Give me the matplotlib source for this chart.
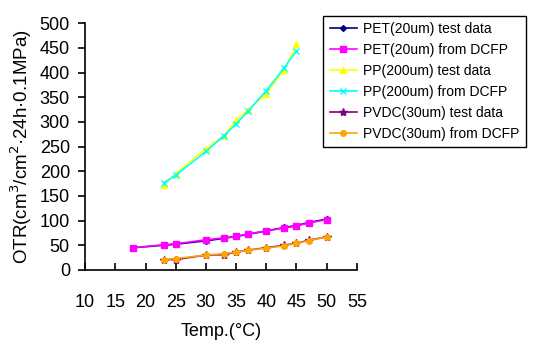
import matplotlib.pyplot as plt

plt.rcParams['font.family'] = ['Liberation Sans', 'DejaVu Sans']

# temperatures
temp_pet = [18, 23, 25, 30, 33, 35, 37, 40, 43, 45, 47, 50]
temp_pp = [23, 25, 30, 33, 35, 37, 40, 43, 45]
temp_pvdc = [23, 25, 30, 33, 35, 37, 40, 43, 45, 47, 50]

# OTR values
pet_test = [45, 50, 52, 59, 64, 68, 72, 79, 86, 90, 96, 103]
pet_dcfp = [45, 51, 53, 61, 65, 68, 73, 79, 85, 89, 95, 102]
pp_test = [172, 195, 246, 272, 304, 325, 357, 406, 457]
pp_dcfp = [176, 192, 240, 272, 296, 322, 363, 410, 444]
pvdc_test = [21, 21, 30, 31, 36, 40, 45, 50, 54, 60, 67]
pvdc_dcfp = [21, 23, 30, 33, 36, 40, 44, 49, 54, 59, 67]

fig = plt.figure(figsize=(5.39, 3.51), dpi=100)
ax = fig.add_axes([0.158, 0.231, 0.504, 0.703])

ax.plot(temp_pet, pet_test, color='navy', marker='D', ms=3, lw=1.2, label='PET(20um) test data')
ax.plot(temp_pet, pet_dcfp, color='magenta', marker='s', ms=5, lw=1.2, label='PET(20um) from DCFP')
ax.plot(temp_pp, pp_test, color='yellow', marker='^', ms=5, lw=1.2, label='PP(200um) test data')
ax.plot(temp_pp, pp_dcfp, color='cyan', marker='x', ms=5, mew=1, lw=1.2, label='PP(200um) from DCFP')
ax.plot(temp_pvdc, pvdc_test, color='purple', marker='*', ms=6, lw=1.2, label='PVDC(30um) test data')
ax.plot(temp_pvdc, pvdc_dcfp, color='orange', marker='o', ms=4, lw=1.2, label='PVDC(30um) from DCFP')

ax.set_xlim(10, 55)
ax.set_ylim(0, 500)
ax.set_xticks(range(10, 56, 5))
ax.set_yticks(range(0, 501, 50))
ax.spines['top'].set_visible(False)
ax.spines['right'].set_visible(False)
ax.spines['left'].set_linewidth(1.2)
ax.spines['bottom'].set_linewidth(1.2)
ax.tick_params(axis='x', direction='in', length=5, width=1.2, pad=17, labelsize=13)
ax.tick_params(axis='y', direction='out', length=5, width=1.2, pad=6, labelsize=13)

ax.set_xlabel('Temp.(°C)', fontsize=13, labelpad=9)
ax.set_ylabel('OTR(cm$^3$/cm$^2$·24h·0.1MPa)', fontsize=13.5, labelpad=4)

fig.legend(loc='upper left', bbox_to_anchor=(0.587, 0.975), fontsize=10,
           fancybox=False, edgecolor='black', framealpha=1, handlelength=2.0,
           handletextpad=0.4, labelspacing=0.5, borderpad=0.45)

fig.savefig('out.png')
